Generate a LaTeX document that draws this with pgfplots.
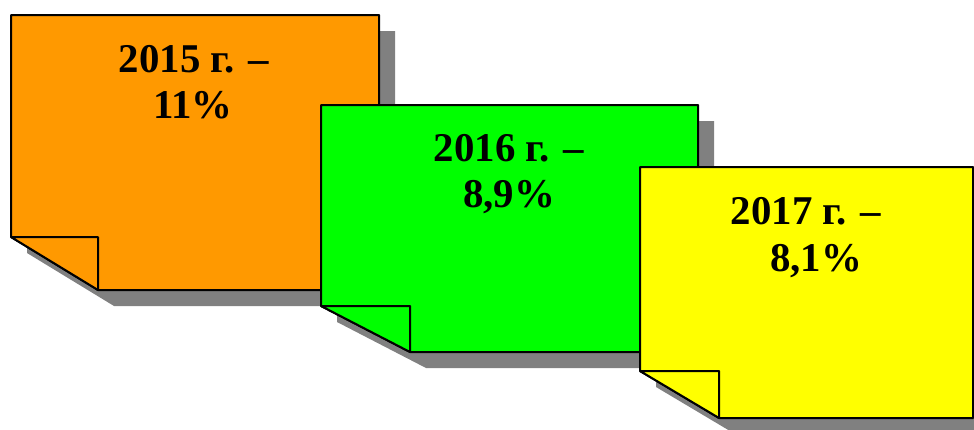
\documentclass[border=0pt]{standalone}
\usepackage{pgfplots}
\pgfplotsset{compat=1.18}
\usepackage{fontspec}
\setmainfont{Liberation Serif}
\definecolor{nOrange}{HTML}{FF9900}
\definecolor{nGreen}{HTML}{00FF00}
\definecolor{nYellow}{HTML}{FFFF00}
\definecolor{nShadow}{HTML}{808080}
\begin{document}
\begin{tikzpicture}
\begin{axis}[
  width=974bp, height=430bp, scale only axis,
  xmin=0, xmax=974, ymin=0, ymax=430, y dir=reverse,
  axis lines=none, clip=true,
]
% ---- note 1 (2015: 11%) ----
\addplot[fill=nShadow, draw=none] coordinates {(27,31) (395,31) (395,306) (114,306) (27,253)} --cycle;
\addplot[fill=nOrange, draw=black, line width=2bp, line join=bevel] coordinates {(11,15) (379,15) (379,290) (98,290) (11,237)} --cycle;
\addplot[fill=nOrange, draw=black, line width=2bp, line join=bevel] coordinates {(11,237) (98,237) (98,290)} --cycle;
% ---- note 2 (2016: 8,9%) ----
\addplot[fill=nShadow, draw=none] coordinates {(337,121) (714,121) (714,368) (426,368) (337,322)} --cycle;
\addplot[fill=nGreen, draw=black, line width=2bp, line join=bevel] coordinates {(321,105) (698,105) (698,352) (410,352) (321,306)} --cycle;
\addplot[fill=nGreen, draw=black, line width=2bp, line join=bevel] coordinates {(321,306) (410,306) (410,352)} --cycle;
% ---- note 3 (2017: 8,1%) ----
\addplot[fill=nShadow, draw=none] coordinates {(656,183) (989,183) (989,434) (735,434) (656,387)} --cycle;
\addplot[fill=nYellow, draw=black, line width=2bp, line join=bevel] coordinates {(640,167) (973,167) (973,418) (719,418) (640,371)} --cycle;
\addplot[fill=nYellow, draw=black, line width=2bp, line join=bevel] coordinates {(640,371) (719,371) (719,418)} --cycle;
% ---- labels ----
\begin{scope}[every node/.style={anchor=base, inner sep=0pt, font=\fontsize{41}{46}\selectfont\bfseries}]
\node at (axis cs:194,72) {2015 г. –};
\node at (axis cs:193,118) {11\%};
\node at (axis cs:509,161) {2016 г. –};
\node at (axis cs:509,207) {8,9\%};
\node at (axis cs:806,224) {2017 г. –};
\node at (axis cs:816,271) {8,1\%};
\end{scope}
\end{axis}
\pgfresetboundingbox
\path (current axis.south west) rectangle (current axis.north east);
\end{tikzpicture}
\end{document}
